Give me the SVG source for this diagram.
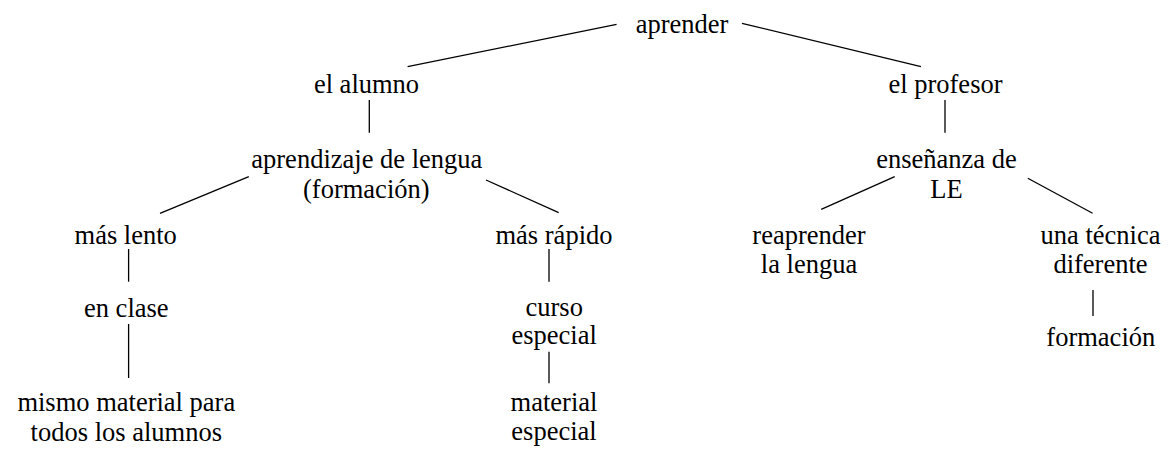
<svg xmlns="http://www.w3.org/2000/svg" width="1171" height="472" viewBox="0 0 1171 472">
<style>
.t text{fill:#000;text-anchor:middle}
.c line{stroke:#000;stroke-width:1.3;fill:none}
</style>
<rect width="1171" height="472" fill="#fff"/>
<g class="c" id="connectors">
<line x1="616.6" y1="24.3" x2="407.6" y2="66.7"/>
<line x1="742" y1="23.3" x2="921" y2="66.7"/>
<line x1="369.3" y1="100" x2="369.3" y2="132.7"/>
<line x1="945" y1="100" x2="945" y2="132.7"/>
<line x1="248.8" y1="176.7" x2="160" y2="213.3"/>
<line x1="486" y1="180" x2="558.7" y2="212.7"/>
<line x1="894.7" y1="176.7" x2="821.2" y2="209.3"/>
<line x1="1027.8" y1="178.3" x2="1092.6" y2="213.3"/>
<line x1="128.6" y1="249" x2="128.6" y2="281.7"/>
<line x1="128.6" y1="324" x2="128.6" y2="378"/>
<line x1="549" y1="249" x2="549" y2="281.7"/>
<line x1="549" y1="351.7" x2="549" y2="383.3"/>
<line x1="1093" y1="290" x2="1093" y2="316"/>
</g>
<g class="t" font-family="Liberation Serif, Times New Roman, DejaVu Serif, serif" font-size="26.5">
<g id="n-aprender"><text x="682" y="33">aprender</text></g>
<g id="n-alumno"><text x="366.5" y="93">el alumno</text></g>
<g id="n-profesor"><text x="945.5" y="93">el profesor</text></g>
<g id="n-aprendizaje"><text x="366.8" y="168">aprendizaje de lengua</text><text x="366.3" y="198">(formación)</text></g>
<g id="n-ensenanza"><text x="946.5" y="168">enseñanza de</text><text x="946.5" y="198">LE</text></g>
<g id="n-maslento"><text x="125.7" y="244">más lento</text></g>
<g id="n-masrapido"><text x="554" y="244">más rápido</text></g>
<g id="n-reaprender"><text x="809" y="244">reaprender</text><text x="809" y="273">la lengua</text></g>
<g id="n-tecnica"><text x="1100.5" y="244">una técnica</text><text x="1100.5" y="273">diferente</text></g>
<g id="n-enclase"><text x="126.3" y="317">en clase</text></g>
<g id="n-curso"><text x="554.2" y="316">curso</text><text x="554.2" y="344">especial</text></g>
<g id="n-formacion"><text x="1100.8" y="346">formación</text></g>
<g id="n-mismo"><text x="126.3" y="411">mismo material para</text><text x="126.3" y="441">todos los alumnos</text></g>
<g id="n-material"><text x="554" y="411">material</text><text x="554" y="440">especial</text></g>
</g>
</svg>
